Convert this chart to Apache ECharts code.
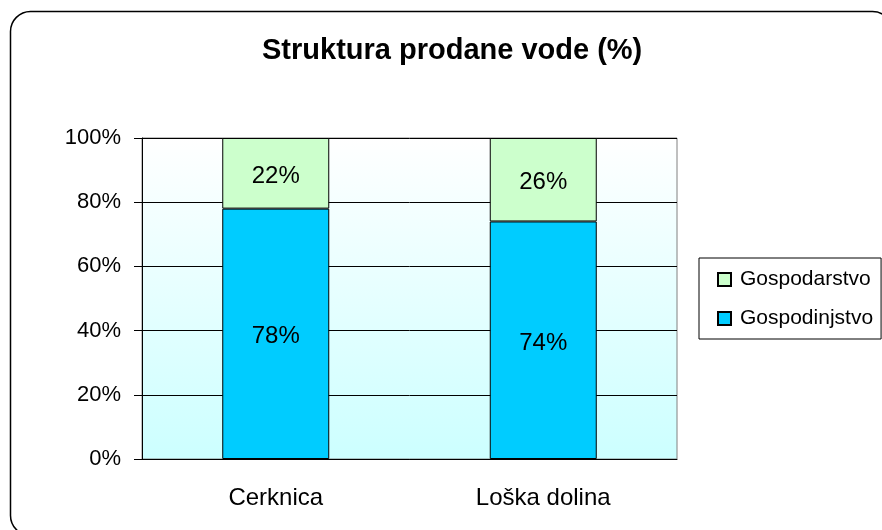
<!DOCTYPE html>
<html>
<head>
<meta charset="utf-8">
<script src="https://cdn.jsdelivr.net/npm/echarts@6/dist/echarts.min.js"></script>
<style>
  html, body { margin: 0; padding: 0; background: #fff; }
  #chart { width: 882px; height: 530px; }
</style>
</head>
<body>
<div id="chart"></div>
<script>
const categories = ['Cerknica', 'Loška dolina']
const gospodinjstvo = [78, 74]
const gospodarstvo = [22, 26]
const yTicks = [0, 20, 40, 60, 80, 100]

const font = "'Liberation Sans', Arial, sans-serif"

const chart = echarts.init(document.getElementById('chart'))

const barLabel = {
  show: true,
  position: 'inside',
  offset: [0, 3],
  formatter: '{c}%',
  color: '#000',
  fontSize: 24,
  fontFamily: font
}

chart.setOption({
  animation: false,
  title: {
    text: 'Struktura prodane vode (%)',
    left: 257,
    top: 31,
    textStyle: { fontFamily: font, fontSize: 29, fontWeight: 'bold', color: '#000' }
  },
  graphic: [
    {
      type: 'rect',
      z: -10,
      silent: true,
      shape: { x: 10.5, y: 11.5, width: 882, height: 524, r: 20 },
      style: { fill: 'none', stroke: '#000', lineWidth: 1.5 }
    }
  ],
  legend: {
    orient: 'vertical',
    left: 699,
    top: 258,
    data: ['Gospodarstvo', 'Gospodinjstvo'],
    icon: 'rect',
    itemWidth: 13,
    itemHeight: 13,
    itemGap: 18,
    padding: [11, 8, 10, 18],
    borderColor: '#000',
    borderWidth: 1,
    textStyle: { fontFamily: font, fontSize: 21, color: '#000', lineHeight: 20, padding: [0, 0, 0, 4] }
  },
  grid: {
    left: 142,
    right: 205,
    top: 138,
    bottom: 71,
    show: true,
    borderColor: '#808080',
    borderWidth: 1,
    backgroundColor: new echarts.graphic.LinearGradient(0, 0, 0, 1, [
      { offset: 0, color: '#ffffff' },
      { offset: 1, color: '#ccffff' }
    ])
  },
  xAxis: {
    type: 'category',
    data: categories,
    axisLine: { lineStyle: { color: '#000', width: 1 } },
    axisTick: { length: 7, lineStyle: { color: '#000' } },
    axisLabel: { color: '#000', fontSize: 24, fontFamily: font, margin: 27 }
  },
  yAxis: {
    type: 'value',
    min: yTicks[0],
    max: yTicks[yTicks.length - 1],
    interval: 20,
    axisLine: { show: true, lineStyle: { color: '#000', width: 1 } },
    axisTick: { show: true, length: 8, lineStyle: { color: '#000' } },
    axisLabel: { color: '#000', fontSize: 22, fontFamily: font, margin: 21, formatter: '{value}%' },
    splitLine: { lineStyle: { color: '#000', width: 1 } }
  },
  series: [
    {
      name: 'Gospodinjstvo',
      type: 'bar',
      stack: 'total',
      barWidth: '40%',
      data: gospodinjstvo,
      itemStyle: { color: '#00ccff', borderColor: '#000', borderWidth: 1 },
      label: barLabel
    },
    {
      name: 'Gospodarstvo',
      type: 'bar',
      stack: 'total',
      barWidth: '40%',
      data: gospodarstvo,
      itemStyle: { color: '#ccffcc', borderColor: '#000', borderWidth: 1 },
      label: barLabel
    }
  ]
})
</script>
</body>
</html>
